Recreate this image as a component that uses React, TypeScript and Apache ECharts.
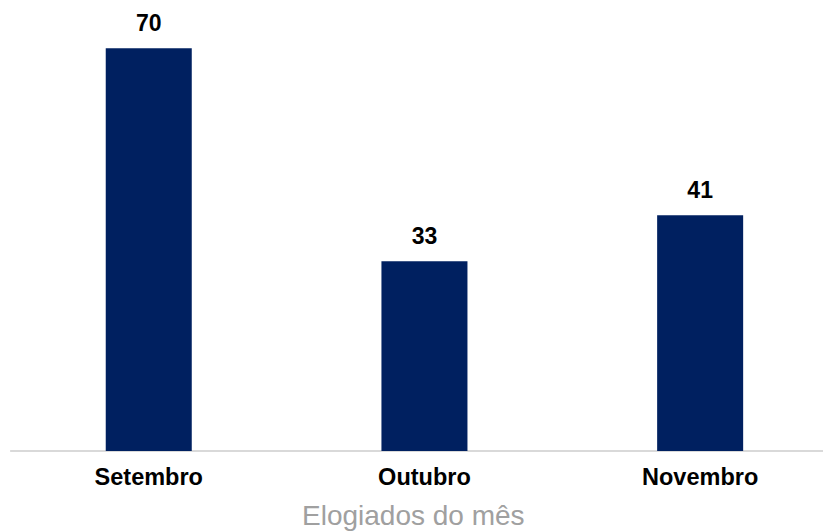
import React, { useEffect, useRef } from "react";
import * as echarts from "echarts";

const categories = ["Setembro", "Outubro", "Novembro"];
const values = [70, 33, 41];
const chartTitle = "Elogiados do mês";

export default function App() {
  const ref = useRef<HTMLDivElement>(null);
  useEffect(() => {
    if (!ref.current) return;
    const chart = echarts.init(ref.current, undefined, { renderer: "svg" });
    const font = "Arial, 'Liberation Sans', sans-serif";
    chart.setOption({
      animation: false,
      backgroundColor: "#ffffff",
      graphic: [
        {
          type: "text",
          left: 302,
          top: 501,
          style: {
            text: chartTitle,
            fontSize: 28,
            fontWeight: "normal",
            fill: "#a0a0a0",
            fontFamily: font,
          },
        },
      ],
      grid: { left: 10.9, right: 0, top: 48.3, bottom: 80, containLabel: false },
      xAxis: {
        type: "category",
        data: categories,
        axisLine: { lineStyle: { color: "#d9d9d9", width: 2 } },
        axisTick: { show: false },
        axisLabel: { fontSize: 23.5, fontWeight: "bold", color: "#000000", fontFamily: font, margin: 14 },
      },
      yAxis: {
        type: "value",
        min: 0,
        max: 70,
        show: false,
        splitLine: { show: false },
      },
      series: [
        {
          type: "bar",
          data: values,
          barWidth: "31.2%",
          itemStyle: { color: "#002060" },
          label: {
            show: true,
            position: "top",
            distance: 14,
            fontSize: 23,
            fontWeight: "bold",
            color: "#000000",
            fontFamily: font,
          },
        },
      ],
    });
    return () => chart.dispose();
  }, []);
  return (
    <div style={{ position: "fixed", left: 0, top: 0, width: 823, height: 531, overflow: "hidden" }}>
      <div ref={ref} style={{ width: 838, height: 531 }} />
    </div>
  );
}
